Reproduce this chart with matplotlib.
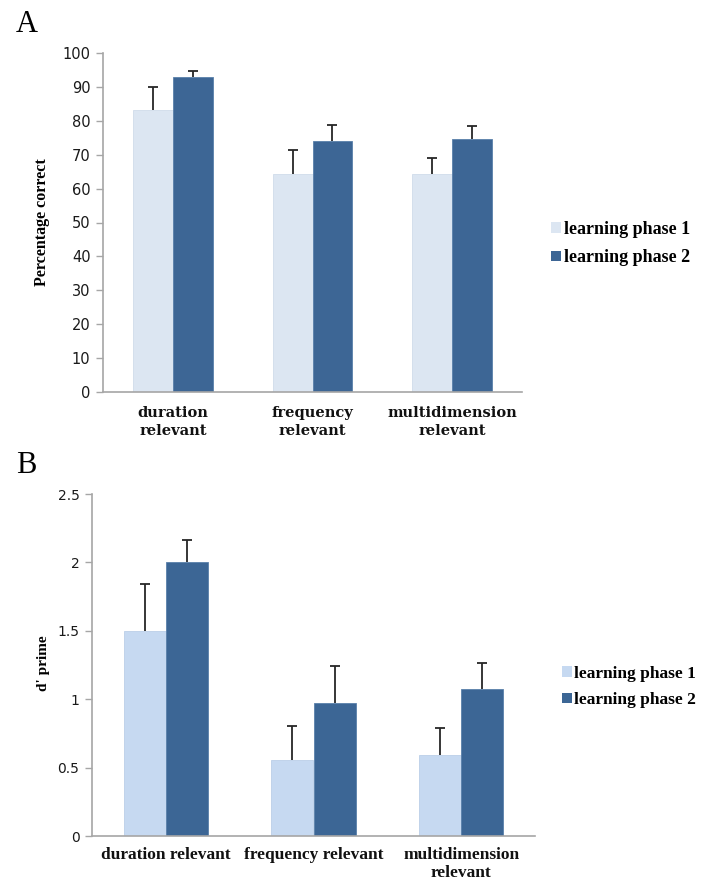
import matplotlib
matplotlib.use("Agg")
import matplotlib.pyplot as plt
import numpy as np
from matplotlib.patches import Patch

# ---- data ----
categories_a = ["duration\nrelevant", "frequency\nrelevant", "multidimension\nrelevant"]
categories_b = ["duration relevant", "frequency relevant", "multidimension\nrelevant"]
series_names = ["learning phase 1", "learning phase 2"]

pct_phase1 = [83.2, 64.3, 64.4]
pct_phase2 = [92.9, 74.0, 74.5]
pct_err1 = [6.8, 7.1, 4.7]
pct_err2 = [1.9, 4.8, 3.9]

dp_phase1 = [1.495, 0.556, 0.593]
dp_phase2 = [2.00, 0.971, 1.071]
dp_err1 = [0.345, 0.251, 0.200]
dp_err2 = [0.165, 0.275, 0.192]

yticks_a = [0, 10, 20, 30, 40, 50, 60, 70, 80, 90, 100]
yticks_b = [0, 0.5, 1, 1.5, 2, 2.5]
ytick_labels_b = ["0", "0.5", "1", "1.5", "2", "2.5"]

W, H = 707, 882
fig = plt.figure(figsize=(W / 100, H / 100), dpi=100)

def fx(px):
    return px / W

def fy(py):
    return (H - py) / H

grey = "#A6A6A6"
err_col = "#262626"

def setup(ax, ymax, yticks, ylabels, cats, catfont, catsize, lsp, pad):
    ax.set_xlim(-0.5, 2.5)
    ax.set_ylim(0, ymax)
    for s in ["top", "right"]:
        ax.spines[s].set_visible(False)
    for s in ["left", "bottom"]:
        ax.spines[s].set_color(grey)
        ax.spines[s].set_linewidth(1.2)
    ax.set_yticks(yticks)
    ax.set_yticklabels(ylabels)
    ax.tick_params(axis="y", direction="out", length=5, width=1, color=grey,
                   labelsize=10, labelcolor="#1a1a1a", pad=4)
    ax.set_xticks(range(len(cats)))
    ax.set_xticklabels(cats, family=catfont, fontweight="bold", fontsize=catsize,
                       linespacing=lsp)
    ax.tick_params(axis="x", length=0, pad=pad, labelcolor="#111111")

def up_errors(ax, xs, vals, errs):
    _, caps, _ = ax.errorbar(xs, vals, yerr=[np.zeros(len(vals)), errs], fmt="none",
                             ecolor=err_col, elinewidth=1.3, capsize=3.5, capthick=1.3,
                             zorder=3)
    # hide the lower cap, which sits on the bar top
    if len(caps) == 2:
        caps[0].set_visible(False)

width = 0.285

# ---- Panel A ----
axA = fig.add_axes([fx(103), fy(392), fx(522) - fx(103), fy(53) - fy(392)])
x = np.arange(len(categories_a))
c1a, c2a = "#DCE6F2", "#3D6695"
axA.bar(x - width / 2, pct_phase1, width, color=c1a, edgecolor="#D0DCEA", linewidth=0.6, zorder=2)
axA.bar(x + width / 2, pct_phase2, width, color=c2a, edgecolor="#5A80AA", linewidth=0.6, zorder=2)
up_errors(axA, x - width / 2, pct_phase1, pct_err1)
up_errors(axA, x + width / 2, pct_phase2, pct_err2)
setup(axA, 100, yticks_a, [str(v) for v in yticks_a], categories_a, "DejaVu Serif", 10.5, 1.4, 10)
axA.tick_params(axis="y", labelsize=10.5)

fig.text(fx(42), fy(222), "Percentage correct", rotation=90, ha="center", va="center",
         family="Liberation Serif", fontweight="bold", fontsize=11.5)
fig.text(fx(16), fy(32), "A", family="Liberation Serif", fontsize=22, ha="left", va="baseline")

handles_a = [Patch(facecolor=c1a, edgecolor="none"), Patch(facecolor=c2a, edgecolor="none")]
fig.legend(handles_a, series_names, loc="center left", bbox_to_anchor=(fx(551), fy(243.5)),
           frameon=False, borderpad=0, borderaxespad=0, handlelength=0.55, handleheight=0.55,
           handletextpad=0.15, labelspacing=0.65,
           prop={"family": "Liberation Serif", "weight": "bold", "size": 13})

# ---- Panel B ----
axB = fig.add_axes([fx(92), fy(836), fx(535) - fx(92), fy(494) - fy(836)])
c1b, c2b = "#C6D9F1", "#3C6695"
axB.bar(x - width / 2, dp_phase1, width, color=c1b, edgecolor="#BBCFE8", linewidth=0.6, zorder=2)
axB.bar(x + width / 2, dp_phase2, width, color=c2b, edgecolor="#5A80AA", linewidth=0.6, zorder=2)
up_errors(axB, x - width / 2, dp_phase1, dp_err1)
up_errors(axB, x + width / 2, dp_phase2, dp_err2)
setup(axB, 2.5, yticks_b, ytick_labels_b, categories_b, "Liberation Serif", 12.5, 1.15, 8)
axB.tick_params(axis="y", labelsize=10)

fig.text(fx(43), fy(663), "d' prime", rotation=90, ha="center", va="center",
         family="Liberation Serif", fontweight="bold", fontsize=11)
fig.text(fx(16), fy(473), "B", family="Liberation Serif", fontsize=22, ha="left", va="baseline")

handles_b = [Patch(facecolor=c1b, edgecolor="none"), Patch(facecolor=c2b, edgecolor="none")]
fig.legend(handles_b, series_names, loc="center left", bbox_to_anchor=(fx(562), fy(687)),
           frameon=False, borderpad=0, borderaxespad=0, handlelength=0.55, handleheight=0.55,
           handletextpad=0.15, labelspacing=0.6,
           prop={"family": "Liberation Serif", "weight": "bold", "size": 12.5})

fig.savefig("out.png", dpi=100)
